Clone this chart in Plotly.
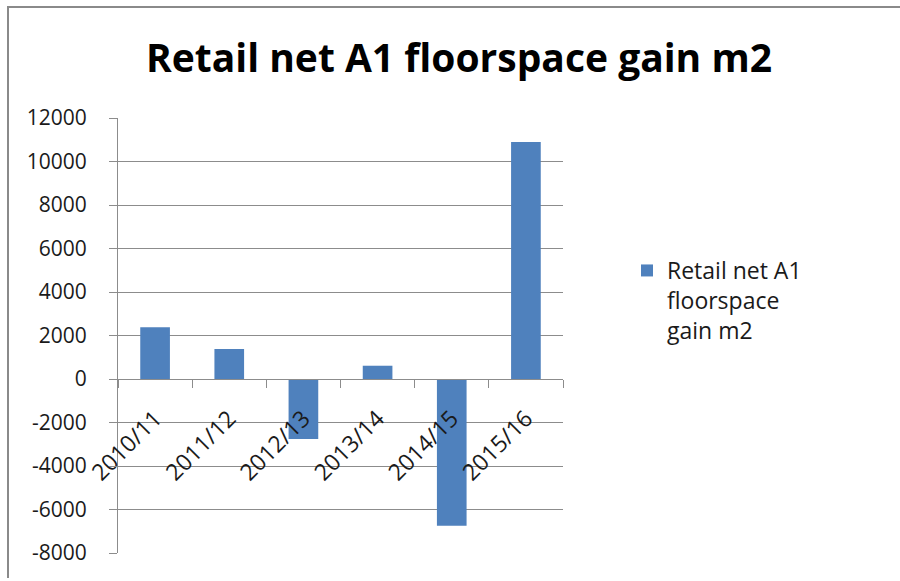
import plotly.graph_objects as go

# Financial years and net A1 retail floorspace change (m2)
years = ["2010/11", "2011/12", "2012/13", "2013/14", "2014/15", "2015/16"]
net_gain_m2 = [2380, 1380, -2760, 610, -6750, 10900]
series_name = "Retail net A1<br>floorspace<br>gain m2"
y_ticks = [12000, 10000, 8000, 6000, 4000, 2000, 0, -2000, -4000, -6000, -8000]

W, H = 900, 581
L, R, T, B = 118, 337, 118, 28
Y_MIN, Y_MAX = -8000, 12000

FONT = "Open Sans"
BAR = "#4F81BD"
GRID = "#8C8C8C"
TEXT = "#1a1a1a"

plot_w = W - L - R
plot_h = H - T - B


def px_x(px):
    return (px - L) / plot_w


def px_y(py):
    return (H - B - py) / plot_h


fig = go.Figure()
fig.add_trace(go.Bar(
    x=years,
    y=net_gain_m2,
    name=series_name,
    marker=dict(color=BAR, line=dict(width=0)),
    showlegend=True,
))

zero_frac = (0 - Y_MIN) / (Y_MAX - Y_MIN)

fig.update_layout(
    width=W,
    height=H,
    margin=dict(l=L, r=R, t=T, b=B),
    paper_bgcolor="white",
    plot_bgcolor="white",
    bargap=0.6,
    font=dict(family=FONT, color=TEXT, size=20),
    title=dict(
        text="<b>Retail net A1 floorspace gain m2</b>",
        x=459 / W,
        xanchor="center",
        y=1 - 58 / H,
        yanchor="middle",
        font=dict(family=FONT, size=39, color="#000000"),
    ),
    xaxis=dict(
        type="category",
        anchor="free",
        position=zero_frac,
        showline=True,
        linecolor=GRID,
        linewidth=1,
        ticks="outside",
        tickson="boundaries",
        ticklen=8,
        tickcolor=GRID,
        tickangle=-45,
        ticklabelstandoff=16,
        tickfont=dict(family=FONT, size=23, color=TEXT),
        showgrid=False,
        zeroline=False,
    ),
    yaxis=dict(
        range=[Y_MIN, Y_MAX],
        tickvals=y_ticks,
        ticktext=[str(v) for v in y_ticks],
        showline=True,
        linecolor=GRID,
        linewidth=1,
        ticks="outside",
        ticklen=8,
        tickcolor=GRID,
        ticklabelstandoff=18,
        showgrid=True,
        gridcolor=GRID,
        gridwidth=1,
        zeroline=False,
        tickfont=dict(family=FONT, size=21, color=TEXT),
    ),
    legend=dict(
        x=px_x(627),
        y=px_y(249),
        xanchor="left",
        yanchor="top",
        valign="top",
        font=dict(family=FONT, size=23, color=TEXT),
        bgcolor="rgba(0,0,0,0)",
        itemwidth=30,
    ),
    shapes=[
        # outer frame of the chart area (top and left edges)
        dict(type="line", xref="paper", yref="paper",
             x0=px_x(7), x1=px_x(W + 5), y0=px_y(7), y1=px_y(7),
             line=dict(color="#8a8a8a", width=2)),
        dict(type="line", xref="paper", yref="paper",
             x0=px_x(8), x1=px_x(8), y0=px_y(6), y1=px_y(578),
             line=dict(color="#8a8a8a", width=2)),
    ],
)

fig.write_html("out.html")
